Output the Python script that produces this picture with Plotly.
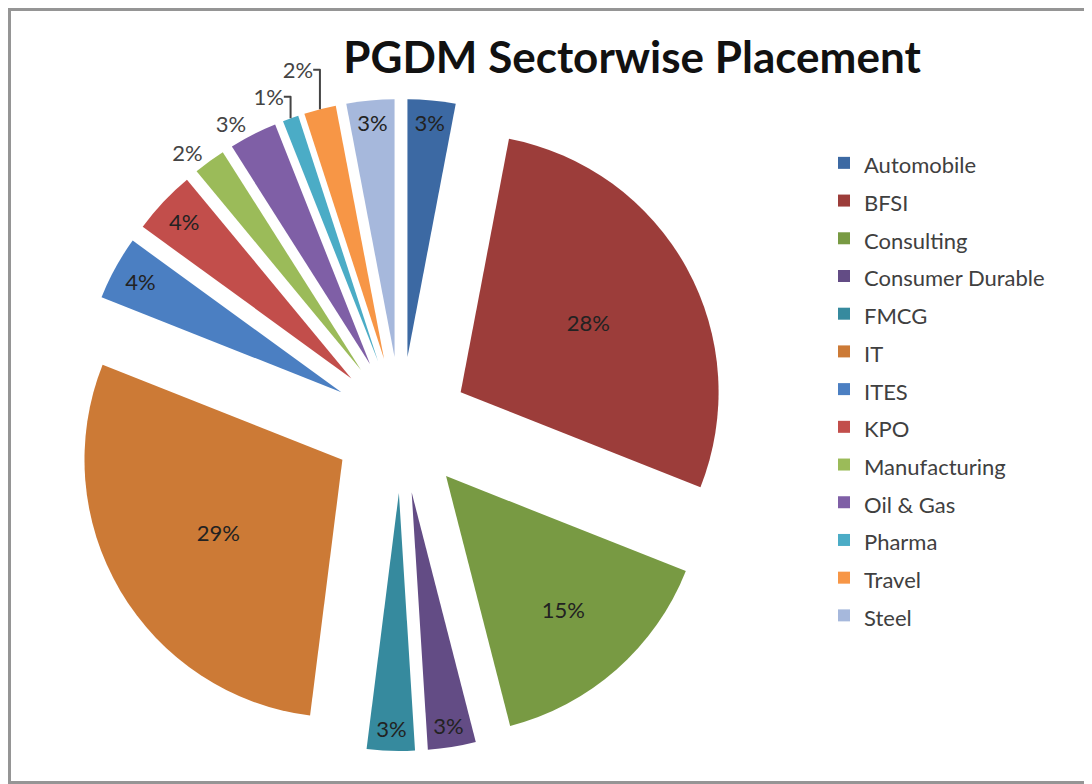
import plotly.graph_objects as go

sectors = ["Automobile", "BFSI", "Consulting", "Consumer Durable", "FMCG", "IT",
           "ITES", "KPO", "Manufacturing", "Oil & Gas", "Pharma", "Travel", "Steel"]
share = [3, 28, 15, 3, 3, 29, 4, 4, 2, 3, 1, 2, 3]
colors = ["#3C69A3", "#9C3D3A", "#789A43", "#634C85", "#368A9E", "#CC7A36",
          "#4B7FC2", "#C24E4B", "#9BBB59", "#7F5FA6", "#4BACC6", "#F79646", "#A6B8DC"]
label_pos = ["inside", "inside", "inside", "inside", "inside", "inside",
             "inside", "inside", "outside", "outside", "outside", "outside", "inside"]

title_text = "PGDM Sectorwise Placement"

# the page body adds an 8px offset, so the figure is 8px smaller than the window
W, H = 1084, 776
FONT = "Lato, 'Open Sans', sans-serif"

legend_labels = [f'<span style="font-size:22px">{s}</span>' for s in sectors]

fig = go.Figure(go.Pie(
    labels=legend_labels,
    values=share,
    sort=False,
    direction="clockwise",
    rotation=0,
    pull=0.264,
    marker=dict(colors=colors, line=dict(width=0)),
    texttemplate="%{percent:.0%}",
    textposition=label_pos,
    insidetextorientation="horizontal",
    insidetextfont=dict(family=FONT, size=22, color="#222222"),
    outsidetextfont=dict(family=FONT, size=22, color="#444444"),
    domain=dict(x=[67 / W, 719 / W], y=[33 / H, 685 / H]),
    hoverinfo="label+percent",
))

fig.update_layout(
    width=W, height=H,
    margin=dict(l=0, r=0, t=0, b=0, autoexpand=False),
    paper_bgcolor="white",
    plot_bgcolor="white",
    font=dict(family=FONT, color="#333333"),
    title=dict(text=f"<b>{title_text}</b>", x=624 / W, xanchor="center",
               y=1 - 50 / H, yanchor="middle",
               font=dict(family=FONT, size=44, color="#111111")),
    legend=dict(x=816 / W, xanchor="left", y=1 - 131 / H, yanchor="top",
                font=dict(family=FONT, size=26.7, color="#404040"),
                bgcolor="rgba(0,0,0,0)", borderwidth=0),
    shapes=[dict(type="rect", xref="paper", yref="paper", x0=0, y0=0, x1=1, y1=1,
                 line=dict(color="#959595", width=6), fillcolor="rgba(0,0,0,0)")],
)

fig.write_html("out.html")
